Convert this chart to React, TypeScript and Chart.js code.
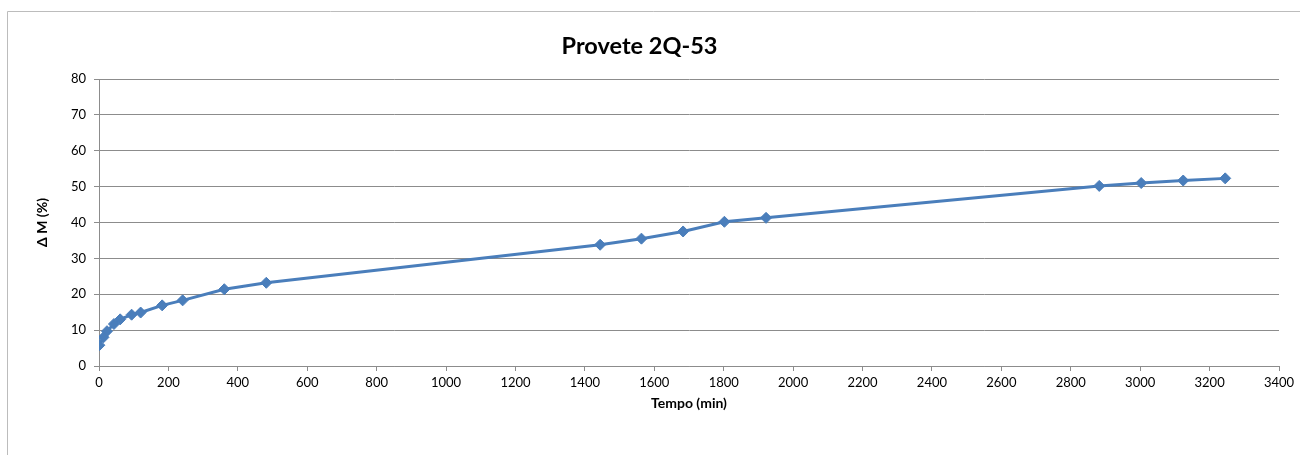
import React, { useEffect, useRef } from "react";
import { Chart, registerables } from "chart.js";

Chart.register(...registerables);

const titleText = "Provete 2Q-53";
const xTitle = "Tempo (min)";
const yTitle = "Δ M (%)";
const timeMin = [1, 13, 23, 43, 61, 94, 120, 182, 241, 361, 482, 1444, 1563, 1683, 1802, 1922, 2882, 3003, 3124, 3245];
const deltaM = [5.8, 8.0, 9.7, 11.7, 13.0, 14.3, 14.9, 16.9, 18.3, 21.4, 23.2, 33.8, 35.5, 37.5, 40.2, 41.3, 50.2, 51.0, 51.7, 52.3];
const xMin = 0;
const xMax = 3400;
const xStep = 200;
const yMin = 0;
const yMax = 80;
const yStep = 10;

const FONT = "Lato, 'Open Sans', sans-serif";
const LINE = "#4a7ebb";
const GRID = "#8c8c8c";

const TITLE_SIZE = 23.5;
const TITLE_LH = TITLE_SIZE * 1.2;
const TITLE_TOP = 46 - TITLE_LH / 2;

const frame = {
  id: "frame",
  beforeDraw(chart: any) {
    const ctx = chart.ctx;
    ctx.save();
    ctx.fillStyle = "#ffffff";
    ctx.fillRect(0, 0, chart.width, chart.height);
    ctx.strokeStyle = "#bcbcbc";
    ctx.lineWidth = 1;
    ctx.beginPath();
    ctx.moveTo(7.5, chart.height);
    ctx.lineTo(7.5, 11.5);
    ctx.lineTo(chart.width, 11.5);
    ctx.stroke();
    ctx.restore();
  },
};

export default function App() {
  const ref = useRef<HTMLCanvasElement | null>(null);
  useEffect(() => {
    if (!ref.current) return;
    const chart = new Chart(ref.current, {
      type: "line",
      data: {
        datasets: [
          {
            data: timeMin.map((t, i) => ({ x: t, y: deltaM[i] })),
            borderColor: LINE,
            backgroundColor: LINE,
            borderWidth: 3,
            pointStyle: "rectRot",
            pointRadius: 5.5,
            pointBorderWidth: 1,
            pointBackgroundColor: LINE,
            pointBorderColor: LINE,
            tension: 0,
          },
        ],
      },
      options: {
        animation: false,
        responsive: false,
        devicePixelRatio: 1,
        layout: { padding: { left: 0, right: 21, top: 0, bottom: 43.4 } },
        plugins: {
          legend: { display: false },
          tooltip: { enabled: false },
          title: {
            display: true,
            text: titleText,
            color: "#000",
            font: { family: FONT, size: TITLE_SIZE, weight: "bold", lineHeight: 1.2 },
            padding: { top: TITLE_TOP, bottom: 79 - TITLE_TOP - TITLE_LH },
          },
        },
        scales: {
          x: {
            type: "linear",
            min: xMin,
            max: xMax,
            afterFit: (s: any) => {
              s.height = 45.6;
            },
            ticks: {
              stepSize: xStep,
              color: "#000",
              padding: 4,
              maxRotation: 0,
              autoSkip: false,
              font: { family: FONT, size: 13 },
              callback: (v: any) => String(v),
            },
            grid: { drawOnChartArea: false, drawTicks: true, tickLength: 5, color: GRID },
            border: { display: true, color: GRID, width: 1 },
            title: {
              display: true,
              text: xTitle,
              color: "#000",
              font: { family: FONT, size: 14, weight: "bold", lineHeight: 1.2 },
              padding: { top: 0, bottom: 0 },
            },
          },
          y: {
            type: "linear",
            min: yMin,
            max: yMax,
            afterFit: (s: any) => {
              s.width = 99;
            },
            ticks: {
              stepSize: yStep,
              color: "#000",
              padding: 8,
              font: { family: FONT, size: 13 },
              callback: (v: any) => String(v),
            },
            grid: { drawOnChartArea: true, drawTicks: true, tickLength: 5, color: GRID },
            border: { display: true, color: GRID, width: 1 },
            title: {
              display: true,
              text: yTitle,
              color: "#000",
              font: { family: FONT, size: 14, weight: "bold", lineHeight: 1.2 },
              padding: { top: 34, bottom: 0 },
            },
          },
        },
      },
      plugins: [frame],
    });
    return () => chart.destroy();
  }, []);
  return (
    <div style={{ position: "absolute", left: 0, top: 0, width: 1300, height: 455, background: "#fff" }}>
      <canvas ref={ref} width={1300} height={455} style={{ display: "block" }} />
    </div>
  );
}
